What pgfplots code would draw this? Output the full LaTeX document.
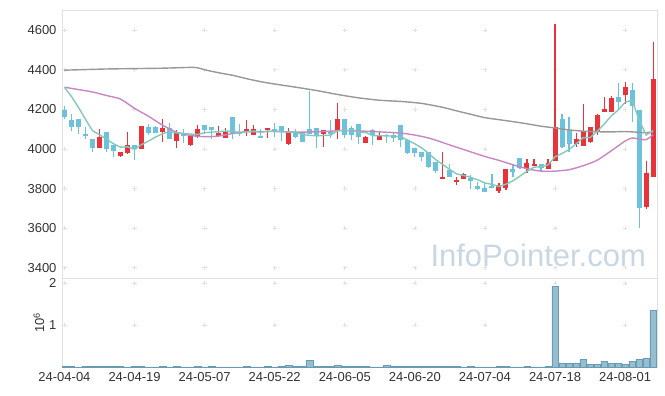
\documentclass[border=0pt]{standalone}
\usepackage{pgfplots}
\pgfplotsset{compat=1.18}
\usepackage{pgfplotstable}
\usepackage{fontspec}
\setmainfont{Liberation Sans}
\definecolor{cred}{RGB}{232,51,59}
\definecolor{cblue}{RGB}{108,193,220}
\definecolor{maf}{RGB}{128,201,188}
\definecolor{mat}{RGB}{200,135,195}
\definecolor{mas}{RGB}{152,152,152}
\definecolor{volfill}{RGB}{150,190,206}
\definecolor{voledge}{RGB}{105,155,180}
\definecolor{frm}{RGB}{226,226,226}
\definecolor{lab}{RGB}{51,51,51}
\definecolor{wm}{RGB}{200,215,226}

\pgfplotstableread{
i o h l c
5 4007 4100 4007 4061
8 3966 3985 3960 3985
9 3981 4084 3973 4020
11 3998 4116 3998 4116
14 4084 4151 4037 4108
16 4042 4096 4007 4082
18 4020 4071 4015 4066
19 4059 4121 4055 4100
22 4066 4115 4066 4079
23 4057 4105 4057 4086
26 4088 4146 4067 4103
27 4071 4121 4071 4101
29 4097 4106 4054 4106
32 4024 4105 4020 4088
37 4074 4094 4009 4094
39 4091 4231 4050 4151
43 4029 4067 4029 4059
45 4047 4091 4047 4071
54 3847 3983 3847 3860
56 3835 3860 3818 3845
57 3850 3880 3850 3874
62 3789 3827 3779 3818
63 3801 3899 3795 3899
66 3899 3950 3880 3928
67 3916 3948 3916 3924
69 3901 3948 3901 3931
70 3941 4631 3941 4110
73 4024 4082 4012 4050
74 4017 4226 4017 4091
75 4034 4110 4030 4110
76 4091 4178 4071 4172
77 4188 4261 4188 4202
78 4188 4268 4188 4256
80 4271 4337 4226 4312
83 3709 3941 3695 3877
84 3860 4539 3860 4353
}\upT

\pgfplotstableread{
i o h l c
0 4197 4215 4150 4160
1 4146 4175 4091 4113
2 4151 4151 4075 4110
3 4072 4110 4049 4070
4 4050 4050 3986 4007
6 4086 4086 3986 4000
7 4020 4020 3961 3990
10 4019 4019 3944 3998
12 4111 4125 4071 4082
13 4111 4115 4082 4082
15 4108 4130 4052 4052
17 4082 4100 4032 4067
20 4121 4121 4074 4096
21 4111 4111 4049 4096
24 4162 4162 4049 4082
25 4081 4126 4067 4078
28 4063 4100 4054 4058
30 4101 4130 4062 4088
31 4115 4115 4040 4084
33 4088 4100 4055 4062
34 4086 4086 4037 4037
35 4101 4294 4074 4074
36 4106 4106 4004 4071
38 4092 4146 4054 4076
40 4151 4151 4054 4071
41 4105 4116 4045 4071
42 4125 4125 4025 4062
44 4096 4101 4020 4071
46 4071 4075 4029 4066
47 4071 4082 4037 4057
48 4121 4121 4009 4047
49 4045 4050 3975 3981
50 4007 4007 3958 3981
51 3985 3985 3941 3961
52 3985 3985 3902 3911
53 3936 3936 3877 3890
55 3894 3923 3860 3860
58 3852 3869 3796 3840
59 3813 3835 3793 3800
60 3801 3830 3783 3783
61 3811 3874 3801 3809
64 3899 3923 3860 3885
65 3955 3955 3900 3906
68 3924 3924 3885 3906
71 4151 4175 4005 4012
72 4096 4160 3983 4024
79 4261 4332 4200 4239
81 4298 4332 4135 4219
82 4197 4197 3600 3704
}\downT

\pgfplotstableread{
i v
0 4312
1 4265
2 4210
3 4150
4 4092
5 4072
6 4050
7 4026
8 4009
9 4011
10 3999
11 4022
12 4040
13 4060
14 4077
15 4088
16 4081
17 4078
18 4075
19 4073
20 4082
21 4085
22 4087
23 4091
24 4088
25 4084
26 4086
27 4090
28 4084
29 4089
30 4091
31 4087
32 4085
33 4086
34 4072
35 4069
36 4066
37 4068
38 4070
39 4093
40 4093
41 4093
42 4086
43 4083
44 4067
45 4067
46 4066
47 4065
48 4062
49 4044
50 4026
51 4005
52 3976
53 3945
54 3921
55 3896
56 3873
57 3866
58 3856
59 3844
60 3828
61 3821
62 3810
63 3822
64 3839
65 3863
66 3887
67 3908
68 3910
69 3919
70 3960
71 3977
72 3997
73 4025
74 4057
75 4057
76 4089
77 4125
78 4166
79 4196
80 4236
81 4246
82 4146
83 4070
84 4093
}\maFive

\pgfplotstableread{
i v
0 4312
2 4300
4 4288
6 4270
8 4252
10 4205
12 4165
14 4120
16 4085
18 4068
20 4062
22 4065
24 4078
26 4087
30 4088
34 4085
38 4090
40 4093
44 4088
48 4080
50 4070
52 4055
54 4032
56 4008
58 3985
60 3962
62 3942
64 3920
66 3900
68 3888
70 3888
72 3895
74 3915
76 3943
78 3990
80 4040
81 4055
82 4050
83 4047
84 4072
}\maTwenty

\pgfplotstableread{
i v
0 4398
3 4401
6 4404
10 4406
14 4408
18 4412
19 4410
20 4400
22 4385
24 4372
26 4355
28 4340
30 4328
33 4312
36 4295
39 4275
42 4258
45 4246
48 4240
51 4230
54 4210
56 4192
58 4175
60 4158
62 4148
64 4138
66 4127
68 4115
70 4106
72 4096
74 4090
76 4087
78 4086
80 4088
82 4084
83 4082
84 4086
}\maSixty

\pgfplotstableread{
i v
0 0.02
1 0.02
2 0.003
3 0.02
4 0.02
5 0.02
6 0.02
7 0.02
8 0.02
9 0.003
10 0.02
11 0.02
12 0.003
13 0.003
14 0.02
15 0.003
16 0.02
17 0.003
18 0.003
19 0.02
20 0.003
21 0.02
22 0.003
23 0.003
24 0.003
25 0.003
26 0.02
27 0.003
28 0.003
29 0.02
30 0.003
31 0.02
32 0.04
33 0.02
34 0.02
35 0.15
36 0.02
37 0.02
38 0.02
39 0.04
40 0.02
41 0.02
42 0.02
43 0.02
44 0.003
45 0.003
46 0.04
47 0.02
48 0.02
49 0.02
50 0.02
51 0.02
52 0.02
53 0.02
54 0.02
55 0.02
56 0.02
57 0.003
58 0.02
59 0.003
60 0.003
61 0.003
62 0.02
63 0.02
64 0.003
65 0.003
66 0.02
67 0.003
68 0.003
69 0.02
70 1.92
71 0.094
72 0.094
73 0.08
74 0.19
75 0.055
76 0.07
77 0.126
78 0.08
79 0.094
80 0.055
81 0.126
82 0.18
83 0.197
84 1.35
}\volT

\pgfplotsset{
  every tick label/.append style={font=\fontsize{13}{15}\selectfont, text=lab},
  /pgf/number format/assume math mode=true,
  /pgf/number format/1000 sep={},
  candle/.style n args={2}{draw=none, mark=none, forget plot,
    error bars/.cd, y dir=both, y explicit, error mark=none,
    error bar style={line width=#1, draw=#2, solid}},
}

\begin{document}
\begin{tikzpicture}
\useasboundingbox (0,0) rectangle (665pt,-396pt);
\begin{axis}[
  at={(62pt,-10pt)}, anchor=north west,
  scale only axis, width=595pt, height=268pt,
  xmin=-0.35, xmax=84.55, ymin=3348, ymax=4702,
  axis line style={frm},
  xtick={0,10,...,80}, xticklabels={},
  ytick={3400,3600,...,4600},
  major tick length=0pt,
  yticklabel style={xshift=-2pt},
  clip mode=individual,
]
\addplot[only marks, mark=+, mark size=2.2pt, color=frm, mark options={line width=0.6pt}, forget plot] coordinates {
(0,3400)(0,3600)(0,3800)(0,4000)(0,4200)(0,4400)(0,4600)
(10,3400)(10,3600)(10,3800)(10,4000)(10,4200)(10,4400)(10,4600)
(20,3400)(20,3600)(20,3800)(20,4000)(20,4200)(20,4400)(20,4600)
(30,3400)(30,3600)(30,3800)(30,4000)(30,4200)(30,4400)(30,4600)
(40,3400)(40,3600)(40,3800)(40,4000)(40,4200)(40,4400)(40,4600)
(50,3400)(50,3600)(50,3800)(50,4000)(50,4200)(50,4400)(50,4600)
(60,3400)(60,3600)(60,3800)(60,4000)(60,4200)(60,4400)(60,4600)
(70,3400)(70,3600)(70,3800)(70,4000)(70,4200)(70,4400)(70,4600)
(80,3400)(80,3600)(80,3800)(80,4000)(80,4200)(80,4400)(80,4600)
};
\node[font=\fontsize{31}{33}\selectfont, text=wm, anchor=center] at (axis cs:67.6,3462) {InfoPointer.com};
% wicks
\addplot[candle={1.1pt}{cblue}]
  table[x=i, y expr={(\thisrow{h}+\thisrow{l})/2}, y error expr={(\thisrow{h}-\thisrow{l})/2}] {\downT};
\addplot[candle={1.1pt}{cred}]
  table[x=i, y expr={(\thisrow{h}+\thisrow{l})/2}, y error expr={(\thisrow{h}-\thisrow{l})/2}] {\upT};
% bodies
\addplot[candle={5pt}{cblue}]
  table[x=i, y expr={(\thisrow{o}+\thisrow{c})/2}, y error expr={max(abs(\thisrow{o}-\thisrow{c})/2,3)}] {\downT};
\addplot[candle={5pt}{cred}]
  table[x=i, y expr={(\thisrow{o}+\thisrow{c})/2}, y error expr={max(abs(\thisrow{o}-\thisrow{c})/2,3)}] {\upT};
% moving averages
\addplot[mas, line width=1.4pt, no marks, smooth, tension=0.4] table[x=i,y=v] {\maSixty};
\addplot[mat, line width=1.4pt, no marks, smooth, tension=0.4] table[x=i,y=v] {\maTwenty};
\addplot[maf, line width=1.4pt, no marks] table[x=i,y=v] {\maFive};
\end{axis}

\begin{axis}[
  at={(62pt,-278pt)}, anchor=north west,
  scale only axis, width=595pt, height=89pt,
  xmin=-0.35, xmax=84.55, ymin=0, ymax=2.119,
  axis line style={frm},
  xtick={0,10,...,80},
  xticklabels={24-04-04,24-04-19,24-05-07,24-05-22,24-06-05,24-06-20,24-07-04,24-07-18,24-08-01},
  ytick={1,2},
  major tick length=0pt,
  yticklabel style={xshift=-2pt},
  xticklabel style={yshift=-2pt},
  ylabel={10\textsuperscript{6}},
  ylabel style={font=\fontsize{13}{15}\selectfont, text=lab, yshift=-2pt},
  ybar, bar width=6.4pt,
  clip mode=individual,
]
\addplot[only marks, mark=+, mark size=2.2pt, color=frm, mark options={line width=0.6pt}, forget plot] coordinates {
(0,1)(0,2)(10,1)(10,2)(20,1)(20,2)(30,1)(30,2)(40,1)(40,2)(50,1)(50,2)(60,1)(60,2)(70,1)(70,2)(80,1)(80,2)
};
\addplot[ybar, fill=volfill, draw=voledge, line width=0.5pt] table[x=i,y=v] {\volT};
\end{axis}
\end{tikzpicture}
\end{document}
